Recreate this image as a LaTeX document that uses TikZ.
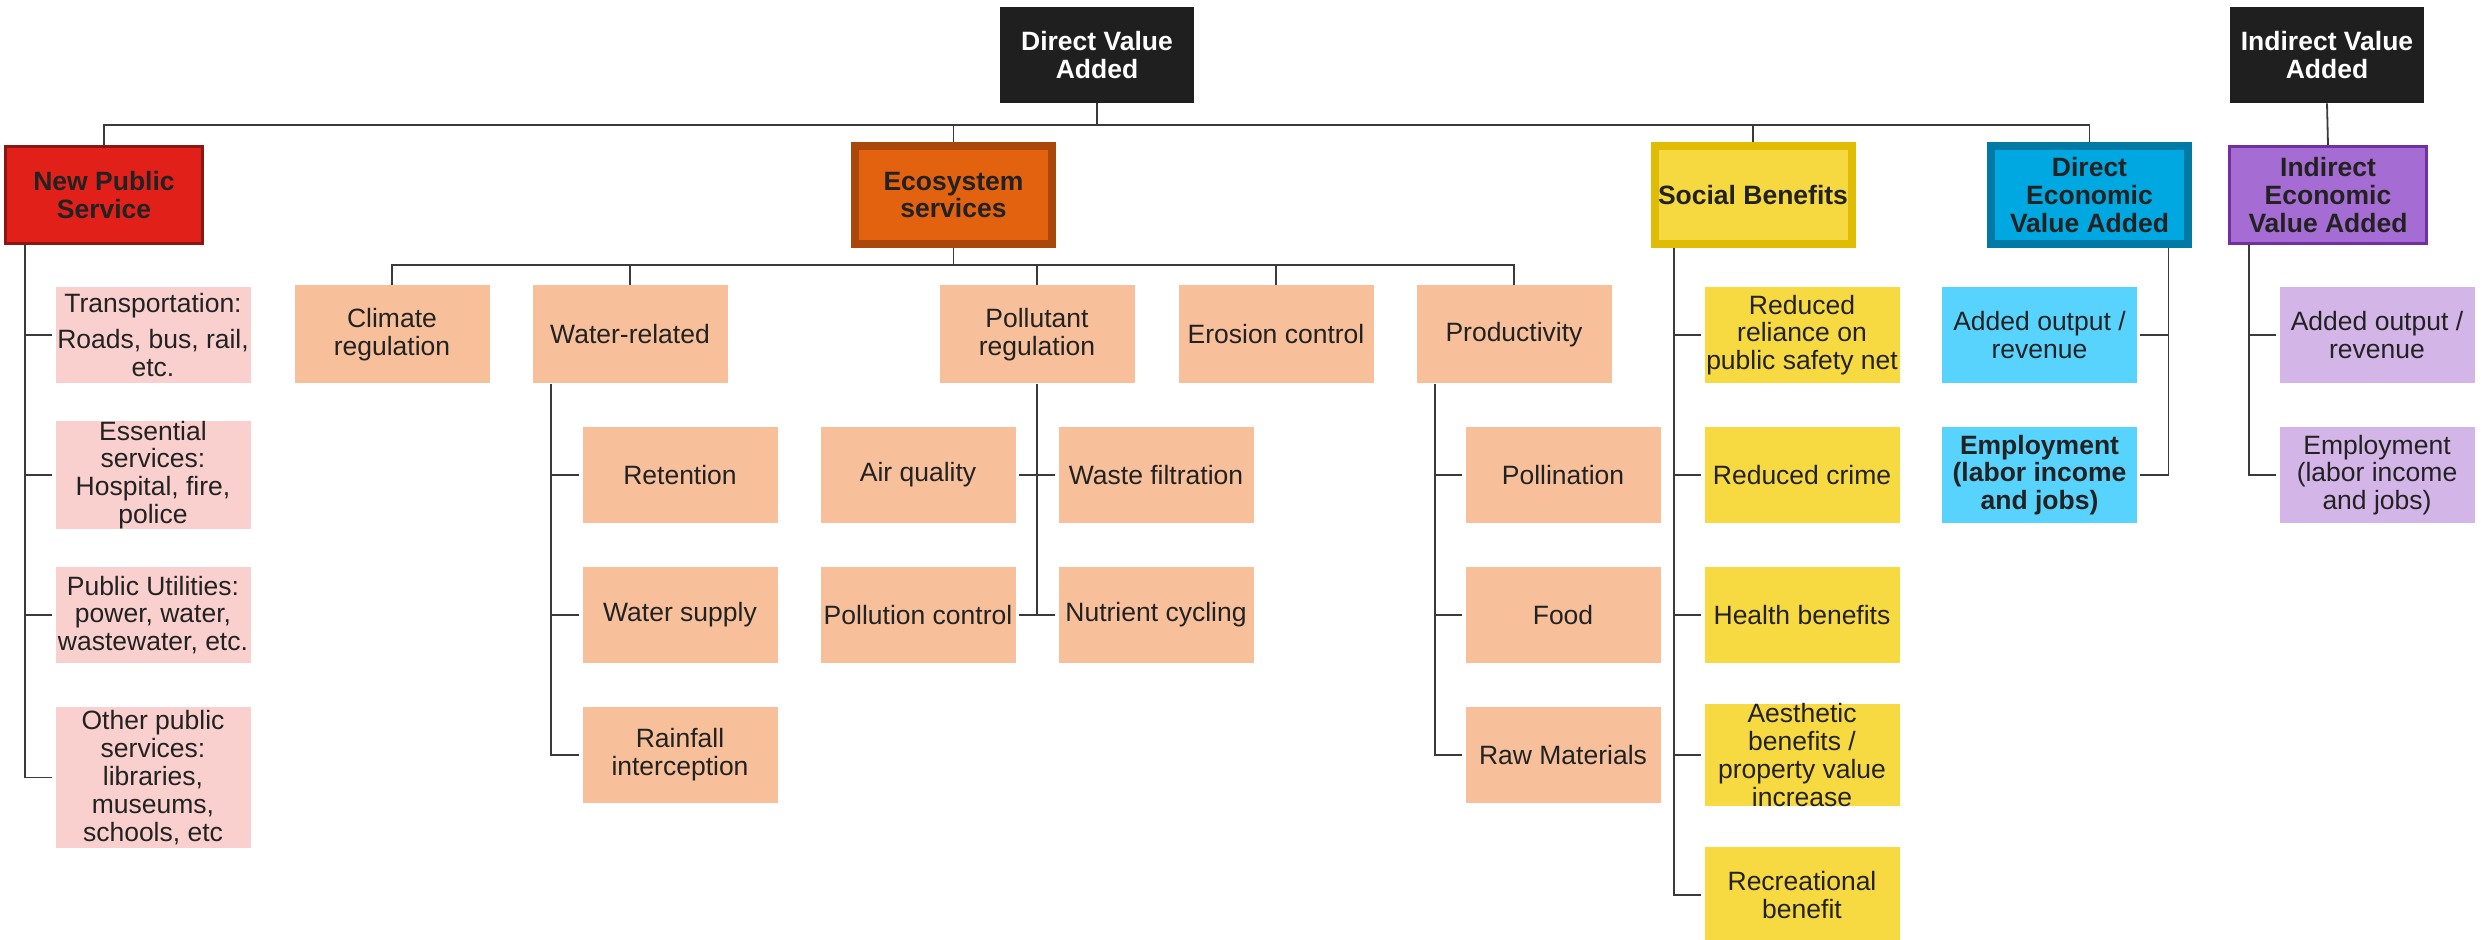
\documentclass[tikz,border=0pt]{standalone}
\usepackage{fontspec}
\setmainfont{Liberation Sans}
\definecolor{ink}{HTML}{222222}
\definecolor{wire}{HTML}{3A3A3A}
\definecolor{topfill}{HTML}{1F1F1F}
\definecolor{npsfill}{HTML}{E2201A}
\definecolor{npsline}{HTML}{8A1712}
\definecolor{ecofill}{HTML}{E3620F}
\definecolor{ecoline}{HTML}{AA480B}
\definecolor{socfill}{HTML}{F6D840}
\definecolor{socline}{HTML}{E0BC04}
\definecolor{devfill}{HTML}{00A8E1}
\definecolor{devline}{HTML}{0079A4}
\definecolor{ievfill}{HTML}{A56CD4}
\definecolor{ievline}{HTML}{7030A0}
\definecolor{pink}{HTML}{F9D0CE}
\definecolor{peach}{HTML}{F7C09B}
\definecolor{sun}{HTML}{F7D942}
\definecolor{sky}{HTML}{57D3FE}
\definecolor{lilac}{HTML}{D3B5E8}
\begin{document}
\begin{tikzpicture}[x=0.5pt,y=-0.5pt,
  txt/.style={font=\fontsize{13.25}{13.9}\selectfont, text=ink, align=center, inner sep=0pt},
  leaf/.style={txt, rectangle, minimum width=97.5pt, minimum height=48pt},
  head/.style={txt, font=\fontsize{13.25}{13.9}\selectfont\bfseries, rectangle,
               minimum width=98.5pt, minimum height=49pt},
  thickhead/.style={head, line width=4pt},
  thinhead/.style={head, line width=1.5pt, minimum height=48.5pt},
  tophead/.style={head, fill=topfill, text=white, minimum width=97pt, minimum height=48pt},
  link/.style={draw=wire, line width=0.9pt},
  tie/.style={link, shorten >=1.5pt}]
\useasboundingbox (0,0) rectangle (2481,940);

% top level
\node[tophead] (dva) at (1097,55) {Direct Value\\Added};
\node[tophead] (iva) at (2327,55) {Indirect Value\\Added};

% second level
\node[thinhead, fill=npsfill, draw=npsline] (nps) at (104,195) {New Public\\Service};
\node[thickhead, fill=ecofill, draw=ecoline] (eco) at (953.5,195) {Ecosystem\\services};
\node[thickhead, fill=socfill, draw=socline] (soc) at (1753,195) {Social Benefits};
\node[thickhead, fill=devfill, draw=devline] (deva) at (2089.5,195) {Direct\\Economic\\Value Added};
\node[thinhead, fill=ievfill, draw=ievline] (ieva) at (2328,195) {Indirect\\Economic\\Value Added};

% new public service
\node[leaf, fill=pink] (t1) at (153,335) {Transportation:\\[4pt]Roads, bus, rail,\\etc.};
\node[leaf, fill=pink] (t2) at (153,475) {Essential\\services:\\Hospital, fire,\\police};
\node[leaf, fill=pink] (t3) at (153,615) {Public Utilities:\\power, water,\\wastewater, etc.};
\node[leaf, fill=pink, minimum height=70.5pt] (t4) at (153,777.5) {Other public\\services:\\libraries,\\museums,\\schools, etc};

% ecosystem services
\node[leaf, fill=peach, minimum height=49pt] (clim) at (392,334.5) {Climate\\regulation};
\node[leaf, fill=peach, minimum height=49pt] (water) at (630,334.5) {Water-related};
\node[leaf, fill=peach, minimum height=49pt] (poll) at (1037,334.5) {Pollutant\\regulation};
\node[leaf, fill=peach, minimum height=49pt] (eros) at (1276,334.5) {Erosion control};
\node[leaf, fill=peach, minimum height=49pt] (prod) at (1514,334.5) {Productivity};

\node[leaf, fill=peach] (ret) at (680,475) {Retention};
\node[leaf, fill=peach] (wsup) at (680,615) {Water supply};
\node[leaf, fill=peach] (rain) at (680,755) {Rainfall\\interception};

\node[leaf, fill=peach] (air) at (918,475) {Air quality};
\node[leaf, fill=peach] (waste) at (1156,475) {Waste filtration};
\node[leaf, fill=peach] (pctl) at (918,615) {Pollution control};
\node[leaf, fill=peach] (nut) at (1156,615) {Nutrient cycling};

\node[leaf, fill=peach] (pollin) at (1563,475) {Pollination};
\node[leaf, fill=peach] (food) at (1563,615) {Food};
\node[leaf, fill=peach] (raw) at (1563,755) {Raw Materials};

% social benefits
\node[leaf, fill=sun] (s1) at (1802,335) {Reduced\\reliance on\\public safety net};
\node[leaf, fill=sun] (s2) at (1802,475) {Reduced crime};
\node[leaf, fill=sun] (s3) at (1802,615) {Health benefits};
\node[leaf, fill=sun] (s4) at (1802,755) {Aesthetic\\benefits /\\property value\\increase};
\node[leaf, fill=sun] (s5) at (1802,895) {Recreational\\benefit};

% direct economic value added
\node[leaf, fill=sky] (d1) at (2039.5,335) {Added output /\\revenue};
\node[leaf, fill=sky, font=\fontsize{13.25}{13.9}\selectfont\bfseries] (d2) at (2039.5,475) {Employment\\(labor income\\and jobs)};

% indirect economic value added
\node[leaf, fill=lilac] (i1) at (2377,335) {Added output /\\revenue};
\node[leaf, fill=lilac] (i2) at (2377,475) {Employment\\(labor income\\and jobs)};

% upper bus
\coordinate (bus) at (1097,125);
\draw[link] (dva.south) -- (bus);
\draw[link] (nps.north) |- (bus) -| (deva.north);
\draw[link] (eco.north) -- (eco.north |- bus);
\draw[link] (soc.north) -- (soc.north |- bus);
\draw[link] (iva.south) -- (ieva.north);

% ecosystem bus
\coordinate (ebus) at (953.5,265);
\draw[link] (eco.south) -- (ebus);
\draw[link] (clim.north) |- (ebus) -| (prod.north);
\draw[link] (water.north) -- (water.north |- ebus);
\draw[link] (poll.north) -- (poll.north |- ebus);
\draw[link] (eros.north) -- (eros.north |- ebus);

% spines
\path (nps.south) ++(-79,0) coordinate (nsp);
\draw[tie] (nsp) |- (t4.west);
\foreach \n in {t1,t2,t3} \draw[tie] (nsp |- \n.west) -- (\n.west);

\path (water.south) ++(-79,0) coordinate (wsp);
\draw[tie] (wsp) |- (rain.west);
\foreach \n in {ret,wsup} \draw[tie] (wsp |- \n.west) -- (\n.west);

\draw[link] (poll.south) -- (poll.south |- nut.west);
\draw[tie, shorten <=1.5pt] (air.east) -- (waste.west);
\draw[tie, shorten <=1.5pt] (pctl.east) -- (nut.west);

\path (prod.south) ++(-79,0) coordinate (psp);
\draw[tie] (psp) |- (raw.west);
\foreach \n in {pollin,food} \draw[tie] (psp |- \n.west) -- (\n.west);

\path (soc.south) ++(-79,0) coordinate (ssp);
\draw[tie] (ssp) |- (s5.west);
\foreach \n in {s1,s2,s3,s4} \draw[tie] (ssp |- \n.west) -- (\n.west);

\path (deva.south) ++(79,0) coordinate (dsp);
\draw[tie] (dsp) |- (d2.east);
\draw[tie] (dsp |- d1.east) -- (d1.east);

\path (ieva.south) ++(-79,0) coordinate (isp);
\draw[tie] (isp) |- (i2.west);
\draw[tie] (isp |- i1.west) -- (i1.west);
\end{tikzpicture}
\end{document}
